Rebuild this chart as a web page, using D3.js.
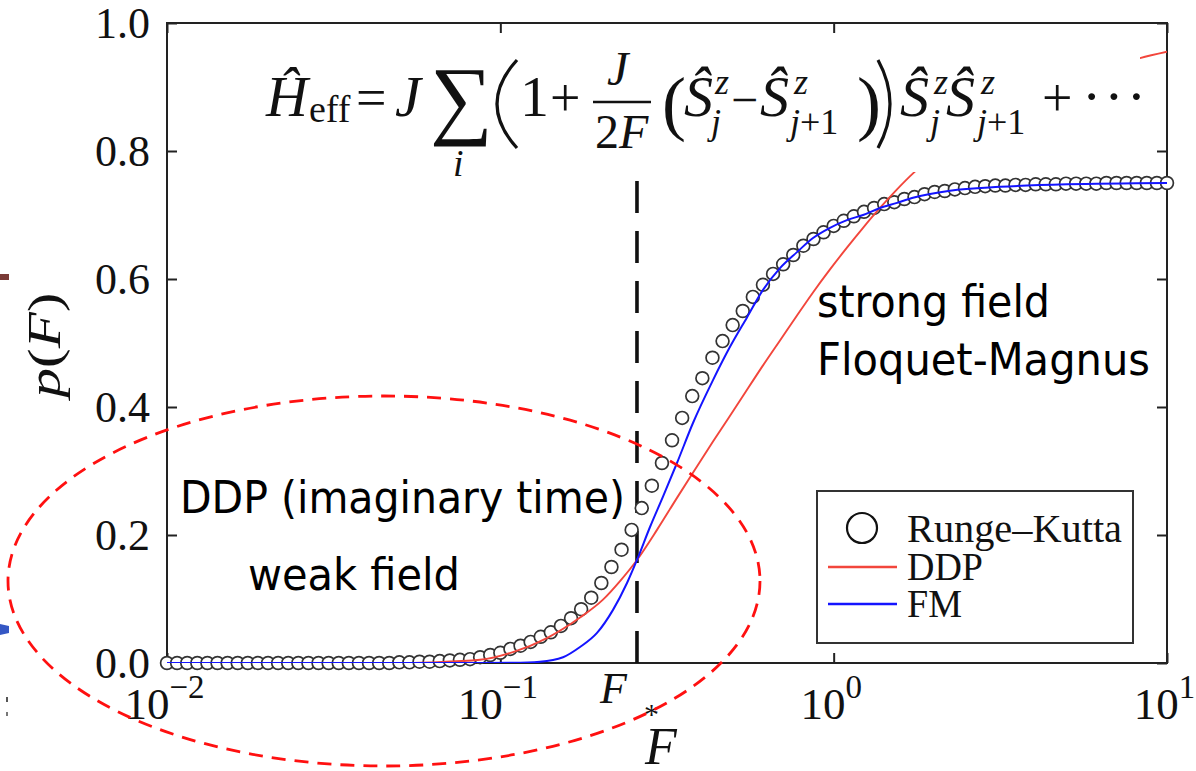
<!DOCTYPE html>
<html><head><meta charset="utf-8">
<script src="https://cdn.jsdelivr.net/npm/d3@7"></script>
<style>
html,body{margin:0;padding:0;background:#fff;}
svg{display:block;}
</style></head><body>
<svg id="chart" width="1196" height="771"></svg>
<script>
// ---------------- data ----------------
// Runge–Kutta sample fields (100 log-spaced points, 10^-2 .. 10^1)
const rkF = [
  0.01, 0.010723, 0.011498, 0.012329, 0.013220, 0.014175, 0.015199, 0.016298, 0.017475, 0.018738,
  0.020092, 0.021544, 0.023101, 0.024771, 0.026561, 0.028480, 0.030539, 0.032745, 0.035112, 0.037649,
  0.040370, 0.043288, 0.046416, 0.049770, 0.053367, 0.057224, 0.061359, 0.065793, 0.070548, 0.075646,
  0.081113, 0.086975, 0.093260,
  0.1, 0.10723, 0.11498, 0.12329, 0.13220, 0.14175, 0.15199, 0.16298, 0.17475, 0.18738,
  0.20092, 0.21544, 0.23101, 0.24771, 0.26561, 0.28480, 0.30539, 0.32745, 0.35112, 0.37649,
  0.40370, 0.43288, 0.46416, 0.49770, 0.53367, 0.57224, 0.61359, 0.65793, 0.70548, 0.75646,
  0.81113, 0.86975, 0.93260,
  1.0, 1.0723, 1.1498, 1.2329, 1.3220, 1.4175, 1.5199, 1.6298, 1.7475, 1.8738,
  2.0092, 2.1544, 2.3101, 2.4771, 2.6561, 2.8480, 3.0539, 3.2745, 3.5112, 3.7649,
  4.0370, 4.3288, 4.6416, 4.9770, 5.3367, 5.7224, 6.1359, 6.5793, 7.0548, 7.5646,
  8.1113, 8.6975, 9.3260, 10.0
];
const rkP = [
  0, 0, 0, 0, 0, 0, 0, 0, 0, 0,
  0, 0, 0, 0, 0, 0, 0, 0, 0, 0,
  0, 0, 0, 0.001, 0.001, 0.002, 0.002, 0.003, 0.004, 0.005,
  0.006, 0.009, 0.0125, 0.016, 0.022, 0.027, 0.033, 0.041, 0.048, 0.058,
  0.070, 0.084, 0.102, 0.125, 0.150, 0.177, 0.208, 0.242, 0.277, 0.3125,
  0.348, 0.383, 0.417, 0.445, 0.477, 0.503, 0.528, 0.550, 0.572, 0.591,
  0.608, 0.623, 0.6375, 0.652, 0.6625, 0.673, 0.683, 0.691, 0.698, 0.705,
  0.711, 0.717, 0.720, 0.725, 0.728, 0.7325, 0.736, 0.7375, 0.740, 0.742,
  0.744, 0.745, 0.746, 0.746, 0.747, 0.747, 0.748, 0.748, 0.748, 0.749,
  0.749, 0.749, 0.749, 0.750, 0.750, 0.750, 0.750, 0.750, 0.750, 0.750
];
// DDP (imaginary time) curve
const ddpF = [0.01, 0.05, 0.0615, 0.0869, 0.1091, 0.1380, 0.1734, 0.2032, 0.2286, 0.2570,
  0.2951, 0.3388, 0.3758, 0.4345, 0.5236, 0.6138, 0.6902, 0.7762, 0.8670, 0.9750,
  1.096, 1.225, 1.377, 1.549, 1.730, 2.393, 3.381, 4.775, 6.295, 8.299, 10.0];
const ddpP = [0, 0, 0.001, 0.005, 0.017, 0.039, 0.071, 0.099, 0.128, 0.161,
  0.208, 0.258, 0.295, 0.346, 0.410, 0.465, 0.504, 0.543, 0.579, 0.615,
  0.649, 0.680, 0.711, 0.740, 0.765, 0.818, 0.862, 0.898, 0.925, 0.945, 0.955];
// Floquet–Magnus curve
const fmF = [0.01, 0.0869, 0.1091, 0.1315, 0.1542, 0.1734, 0.1950, 0.2178, 0.2399, 0.2570,
  0.2812, 0.3076, 0.3388, 0.3784, 0.4345, 0.4887, 0.5495, 0.6138, 0.6902, 0.7762,
  0.8670, 0.9750, 1.096, 1.225, 1.377, 1.549, 1.730, 2.234, 3.155, 5.012, 10.0];
const fmP = [0, 0, 0.0003, 0.002, 0.009, 0.025, 0.047, 0.083, 0.125, 0.161,
  0.2125, 0.260, 0.3125, 0.375, 0.442, 0.494, 0.540, 0.583, 0.617, 0.642,
  0.664, 0.680, 0.692, 0.700, 0.711, 0.719, 0.727, 0.738, 0.744, 0.748, 0.750];

const yTicks = [0, 0.2, 0.4, 0.6, 0.8, 1.0];
const yTickLabels = ["0.0", "0.2", "0.4", "0.6", "0.8", "1.0"];
const xTicks = [0.01, 0.1, 1, 10];
const xTickBase = ["10", "10", "10", "10"];
const xTickExp = ["\u22122", "\u22121", "0", "1"];
const Fstar = 0.257;
const legendLabels = ["Runge\u2013Kutta", "DDP", "FM"];
const noteLines = ["DDP (imaginary time)", "weak field", "strong field", "Floquet-Magnus"];

// ---------------- drawing ----------------
const svg = d3.select("#chart");
svg.append("rect").attr("width", 1196).attr("height", 771).attr("fill", "#fff");

const L = 167, R = 1167, T = 23, B = 663;
const x = d3.scaleLog().domain([0.01, 10]).range([L, R]);
const y = d3.scaleLinear().domain([0, 1]).range([B, T]);

const serif = "'Liberation Serif','Times New Roman',serif";
const sans = "'DejaVu Sans','Verdana',sans-serif";

// left-edge fragments of a neighbouring figure
svg.append("rect").attr("x", 0).attr("y", 274).attr("width", 9).attr("height", 6).attr("fill", "#7a3b37");
svg.append("path").attr("d", "M0,624 L9,626 L9,633 L0,635 Z").attr("fill", "#3557c4");
svg.append("rect").attr("x", 6).attr("y", 697).attr("width", 2).attr("height", 5).attr("fill", "#555");
svg.append("rect").attr("x", 6).attr("y", 712).attr("width", 2).attr("height", 4).attr("fill", "#777");

svg.append("defs").append("clipPath").attr("id", "plotclip")
  .append("rect").attr("x", L).attr("y", T).attr("width", R - L).attr("height", B - T);

// axes (inner ticks)
const axisStyle = g => {
  g.attr("font-family", serif);
  g.select(".domain").remove();
  g.selectAll(".tick line").attr("stroke", "#222").attr("stroke-width", 2);
};
svg.append("g").attr("transform", `translate(${L},0)`)
  .call(d3.axisLeft(y).tickValues(yTicks).tickFormat((d, i) => yTickLabels[i])
    .tickSize(-10).tickPadding(17).tickSizeOuter(0))
  .call(axisStyle)
  .call(g => g.selectAll(".tick text").style("font-family", serif).attr("font-size", 44)
    .attr("fill", "#111").attr("dy", "0.34em"));
svg.append("g").attr("transform", `translate(${R},0)`)
  .call(d3.axisRight(y).tickValues(yTicks).tickFormat("").tickSize(-10).tickSizeOuter(0))
  .call(axisStyle).call(g => g.selectAll(".tick text").remove());
svg.append("g").attr("transform", `translate(0,${T})`)
  .call(d3.axisTop(x).tickValues(xTicks).tickFormat("").tickSize(-10).tickSizeOuter(0))
  .call(axisStyle).call(g => g.selectAll(".tick text").remove());
const gx = svg.append("g").attr("transform", `translate(0,${B})`)
  .call(d3.axisBottom(x).tickValues(xTicks).tickFormat("").tickSize(-10).tickSizeOuter(0))
  .call(axisStyle).call(g => g.selectAll(".tick text").remove());
gx.selectAll(".tick").each(function(d, i) {
  const t = d3.select(this).append("text").attr("x", -3).attr("y", 56)
    .attr("text-anchor", "middle").style("font-family", serif).attr("fill", "#111");
  t.append("tspan").attr("font-size", 45).text(xTickBase[i]);
  t.append("tspan").attr("font-size", 33).attr("dy", -21).text(xTickExp[i]);
});

// frame
svg.append("rect").attr("x", L).attr("y", T).attr("width", R - L).attr("height", B - T)
  .attr("fill", "none").attr("stroke", "#222").attr("stroke-width", 2);

// F* dashed line
svg.append("line").attr("x1", x(Fstar)).attr("x2", x(Fstar)).attr("y1", B).attr("y2", 40)
  .attr("stroke", "#111").attr("stroke-width", 3.6).attr("stroke-dasharray", "32 18");

// Runge–Kutta circles
svg.append("g").selectAll("circle").data(rkF.map((f, i) => ({F: f, p: rkP[i]})))
  .join("circle").attr("cx", d => x(d.F)).attr("cy", d => y(d.p)).attr("r", 6.4)
  .attr("fill", "#fff").attr("stroke", "#333").attr("stroke-width", 1.7);

// curves
const line = d3.line().x(d => x(d.F)).y(d => y(d.p)).curve(d3.curveMonotoneX);
const cg = svg.append("g").attr("clip-path", "url(#plotclip)");
cg.append("path").datum(ddpF.map((f, i) => ({F: f, p: ddpP[i]})))
  .attr("d", line).attr("fill", "none").attr("stroke", "#f2463c").attr("stroke-width", 1.9);
cg.append("path").datum(fmF.map((f, i) => ({F: f, p: fmP[i]})))
  .attr("d", line).attr("fill", "none").attr("stroke", "#1414ff").attr("stroke-width", 2);

// formula panel
svg.append("rect").attr("x", 240).attr("y", 36).attr("width", 900).attr("height", 136).attr("fill", "#fff");
const fg = svg.append("g").style("font-family", serif).attr("fill", "#111");
function ft(xp, yp, size, parts) {
  const t = fg.append("text").attr("x", xp).attr("y", yp).attr("font-size", size);
  parts.forEach(p => {
    const s = t.append("tspan").text(p[0]);
    if (p[1]) s.attr("font-style", "italic");
  });
  return t;
}
ft(266, 116, 58, [["\u0124", 1]]);
ft(309, 122, 38, [["eff", 0]]);
ft(356, 116, 54, [["=", 0]]);
ft(395, 116, 58, [["J", 1]]);
ft(430, 128, 88, [["\u2211", 0]]);
ft(453, 176, 38, [["i", 1]]);
fg.append("path").attr("d", "M517,60 Q477,104 517,148").attr("fill", "none").attr("stroke", "#111").attr("stroke-width", 3.2);
ft(520, 116, 58, [["1", 0]]);
ft(550, 116, 54, [["+", 0]]);
ft(607, 85, 48, [["J", 1]]);
fg.append("line").attr("x1", 593).attr("x2", 651).attr("y1", 102).attr("y2", 102).attr("stroke", "#111").attr("stroke-width", 2.5);
ft(595, 148, 48, [["2", 0], ["F", 1]]);
ft(662, 127, 72, [["(", 0]]);
ft(684, 116, 58, [["\u015C", 1]]);
ft(715, 94, 36, [["z", 1]]);
ft(711, 134, 36, [["j", 1]]);
ft(731, 116, 48, [["\u2212", 0]]);
ft(760, 116, 58, [["\u015C", 1]]);
ft(794, 94, 36, [["z", 1]]);
ft(790, 134, 36, [["j", 1], ["+1", 0]]);
ft(857, 127, 72, [[")", 0]]);
fg.append("path").attr("d", "M878,60 Q902,104 878,148").attr("fill", "none").attr("stroke", "#111").attr("stroke-width", 3.2);
ft(900, 116, 58, [["\u015C", 1]]);
ft(934, 94, 36, [["z", 1]]);
ft(930, 134, 36, [["j", 1]]);
ft(946, 116, 58, [["\u015C", 1]]);
ft(981, 94, 36, [["z", 1]]);
ft(977, 134, 36, [["j", 1], ["+1", 0]]);
ft(1042, 116, 54, [["+", 0]]);
ft(1082, 116, 58, [["\u00B7\u00B7\u00B7", 0]]).attr("letter-spacing", 3);

// legend
const lg = svg.append("g");
lg.append("rect").attr("x", 817).attr("y", 491).attr("width", 316).attr("height", 152)
  .attr("fill", "#fff").attr("stroke", "#333").attr("stroke-width", 2);
lg.append("circle").attr("cx", 862).attr("cy", 528).attr("r", 15).attr("fill", "#fff")
  .attr("stroke", "#111").attr("stroke-width", 2.2);
lg.append("line").attr("x1", 828).attr("x2", 897).attr("y1", 567).attr("y2", 567)
  .attr("stroke", "#f2463c").attr("stroke-width", 2.5);
lg.append("line").attr("x1", 828).attr("x2", 897).attr("y1", 604).attr("y2", 604)
  .attr("stroke", "#1414ff").attr("stroke-width", 2.5);
const legY = [542, 580, 617], legW = [215, 76, 55];
legendLabels.forEach((s, i) => {
  lg.append("text").attr("x", 907).attr("y", legY[i]).style("font-family", serif)
    .attr("font-size", 39).attr("fill", "#111").attr("textLength", legW[i])
    .attr("lengthAdjust", "spacingAndGlyphs").text(s);
});

// axis titles
svg.append("text").attr("x", x(Fstar) - 37).attr("y", 703).style("font-family", serif)
  .attr("font-size", 44).attr("font-style", "italic").attr("fill", "#111").text("F");
svg.append("text").attr("x", x(Fstar) + 7).attr("y", 724).style("font-family", serif)
  .attr("font-size", 30).attr("fill", "#111").text("*");
svg.append("text").attr("x", 661).attr("y", 764).attr("text-anchor", "middle").style("font-family", serif)
  .attr("font-size", 52).attr("font-style", "italic").attr("fill", "#111").text("F");
const yl = svg.append("text").attr("transform", "translate(60,345) rotate(-90)")
  .attr("text-anchor", "middle").style("font-family", serif).attr("font-size", 46).attr("fill", "#111")
  .attr("textLength", 105).attr("lengthAdjust", "spacingAndGlyphs");
yl.append("tspan").attr("font-style", "italic").text("p");
yl.append("tspan").text("(");
yl.append("tspan").attr("font-style", "italic").text("F");
yl.append("tspan").text(")");

// annotations
const notePos = [[180, 513, 445], [248, 590, 212], [817, 317, 233], [817, 375, 333]];
noteLines.forEach((s, i) => {
  svg.append("text").attr("x", notePos[i][0]).attr("y", notePos[i][1])
    .style("font-family", sans).attr("font-size", 45).attr("fill", "#000")
    .attr("textLength", notePos[i][2]).attr("lengthAdjust", "spacingAndGlyphs").text(s);
});

// dashed ellipse
svg.append("ellipse").attr("cx", 384).attr("cy", 581).attr("rx", 376).attr("ry", 185)
  .attr("fill", "none").attr("stroke", "#ff1010").attr("stroke-width", 2.8)
  .attr("stroke-dasharray", "14 9");
</script>
</body></html>
